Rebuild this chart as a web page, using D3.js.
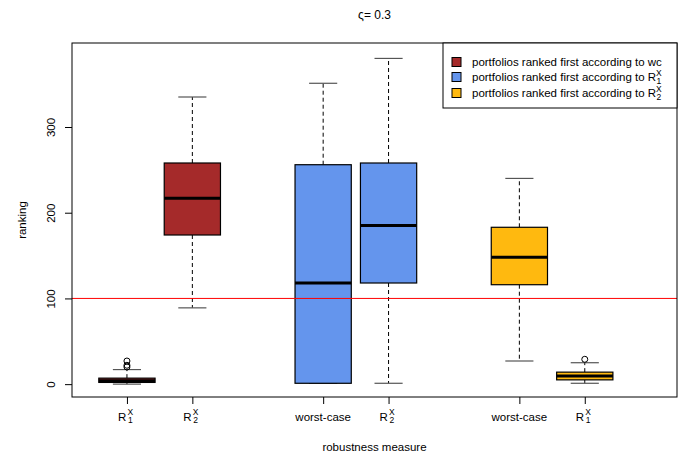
<!DOCTYPE html>
<html>
<head>
<meta charset="utf-8">
<script src="https://cdn.jsdelivr.net/npm/d3@7"></script>
<style>
  body { margin: 0; background: #fff; }
  text { font-family: "Liberation Sans", Arial, sans-serif; fill: #000; }
</style>
</head>
<body>
<div id="root"></div>
<script>
// box positions and the labels under them
var positions = [1, 2, 4, 5, 7, 8];
var labelMain = ["R", "R", "worst-case", "R", "worst-case", "R"];
var labelSup  = ["X", "X", "", "X", "", "X"];
var labelSub  = ["1", "2", "", "2", "", "1"];
var groups    = [0, 0, 1, 1, 2, 2];

// five number summaries
var whiskLo = [0, 89, 1, 1, 27, 1];
var q1      = [2, 174, 1, 118, 116, 5];
var median  = [4, 217, 118, 185, 148, 9.5];
var q3      = [7, 258, 256, 258, 183, 14];
var whiskHi = [17, 335, 351, 380, 240, 25];
var outliers = [[20, 22, 27], [], [], [], [], [29]];

var groupColors = ["#A52A2A", "#6495ED", "#FFB90F"];
var legendText = ["portfolios ranked first according to wc",
                  "portfolios ranked first according to R",
                  "portfolios ranked first according to R"];
var legendSub = ["", "1", "2"];

var yTicks = [0, 100, 200, 300];
var refLine = 100;

var width = 679, height = 457,
    margin = {top: 43, right: 2, bottom: 60, left: 72};

var svg = d3.select("#root").append("svg")
    .attr("width", width)
    .attr("height", height);

var x = d3.scaleLinear().domain([0.16, 9.41]).range([margin.left, width - margin.right]);
var y = d3.scaleLinear().domain([-15, 398]).range([height - margin.bottom, margin.top]);

var boxW = x(0.86) - x(0);

var box = svg.selectAll("g.box")
    .data(positions)
    .enter().append("g")
    .attr("class", "box");

// whiskers (dashed)
box.append("line")
    .attr("x1", function (d) { return x(d); })
    .attr("x2", function (d) { return x(d); })
    .attr("y1", function (d, i) { return y(q3[i]); })
    .attr("y2", function (d, i) { return y(whiskHi[i]); })
    .style("stroke", "#000").style("stroke-dasharray", "4,3");
box.append("line")
    .attr("x1", function (d) { return x(d); })
    .attr("x2", function (d) { return x(d); })
    .attr("y1", function (d, i) { return y(q1[i]); })
    .attr("y2", function (d, i) { return y(whiskLo[i]); })
    .style("stroke", "#000").style("stroke-dasharray", "4,3");

// caps
[whiskHi, whiskLo].forEach(function (arr) {
  box.append("line")
      .attr("x1", function (d) { return x(d) - boxW / 4; })
      .attr("x2", function (d) { return x(d) + boxW / 4; })
      .attr("y1", function (d, i) { return y(arr[i]); })
      .attr("y2", function (d, i) { return y(arr[i]); })
      .style("stroke", "#555").style("stroke-width", 1.2);
});

// boxes
box.append("rect")
    .attr("x", function (d) { return x(d) - boxW / 2; })
    .attr("y", function (d, i) { return y(q3[i]); })
    .attr("width", boxW)
    .attr("height", function (d, i) { return y(q1[i]) - y(q3[i]); })
    .style("fill", function (d, i) { return groupColors[groups[i]]; })
    .style("stroke", "#000").style("stroke-width", 1.2);

// medians
box.append("line")
    .attr("x1", function (d) { return x(d) - boxW / 2; })
    .attr("x2", function (d) { return x(d) + boxW / 2; })
    .attr("y1", function (d, i) { return y(median[i]); })
    .attr("y2", function (d, i) { return y(median[i]); })
    .style("stroke", "#000").style("stroke-width", 3);

// outliers
box.each(function (d, i) {
  d3.select(this).selectAll("circle")
      .data(outliers[i])
      .enter().append("circle")
      .attr("cx", x(d))
      .attr("cy", function (v) { return y(v); })
      .attr("r", 3)
      .style("fill", "none").style("stroke", "#000");
});

// reference line at 100, drawn over the boxes
svg.append("line")
    .attr("x1", margin.left).attr("x2", width - margin.right)
    .attr("y1", y(refLine)).attr("y2", y(refLine))
    .style("stroke", "red").style("stroke-width", 1);

// plot frame
svg.append("rect")
    .attr("x", margin.left).attr("y", margin.top)
    .attr("width", width - margin.right - margin.left)
    .attr("height", height - margin.bottom - margin.top)
    .style("fill", "none").style("stroke", "#000");

// y axis, labels rotated like R's default las = 0
var yAxis = svg.append("g")
    .attr("transform", "translate(" + margin.left + ",0)")
    .call(d3.axisLeft(y).tickValues(yTicks).tickSize(7).tickFormat(d3.format("d")));
yAxis.select(".domain").remove();
yAxis.selectAll(".tick text")
    .attr("x", 0).attr("y", 0).attr("dy", 0)
    .attr("transform", "translate(-17,0) rotate(-90)")
    .style("text-anchor", "middle")
    .style("font-size", "11.5px")
    .style("font-family", "'Liberation Sans', Arial, sans-serif");

// x axis
var xAxis = svg.append("g")
    .attr("transform", "translate(0," + (height - margin.bottom) + ")")
    .call(d3.axisBottom(x).tickValues(positions).tickSize(7).tickFormat(""));
xAxis.select(".domain").remove();

var xl = svg.selectAll("text.xlab")
    .data(positions)
    .enter().append("text")
    .attr("class", "xlab")
    .style("font-size", "11.5px")
    .attr("y", 421);
xl.each(function (d, i) {
  var t = d3.select(this);
  if (labelSup[i] === "") {
    t.attr("x", x(d)).style("text-anchor", "middle").text(labelMain[i]);
  } else {
    t.attr("x", x(d) - 9).style("text-anchor", "start");
    t.append("tspan").attr("x", x(d) - 9).text(labelMain[i]);
    t.append("tspan").attr("x", x(d) + 0.5).attr("dy", -6).style("font-size", "8.5px").text(labelSup[i]);
    t.append("tspan").attr("x", x(d) + 1).attr("dy", 8).style("font-size", "8.5px").text(labelSub[i]);
  }
});

// axis titles
svg.append("text")
    .attr("x", (margin.left + width - margin.right) / 2)
    .attr("y", 451)
    .style("text-anchor", "middle").style("font-size", "11.5px")
    .text("robustness measure");
svg.append("text")
    .attr("transform", "translate(26," + ((margin.top + height - margin.bottom) / 2) + ") rotate(-90)")
    .style("text-anchor", "middle").style("font-size", "11.5px")
    .text("ranking");

// title
svg.append("text")
    .attr("x", (margin.left + width - margin.right) / 2)
    .attr("y", 19)
    .style("text-anchor", "middle").style("font-size", "12px")
    .text("\u03c2= 0.3");

// legend
var lg = svg.append("g");
lg.append("rect")
    .attr("x", 443).attr("y", margin.top)
    .attr("width", width - margin.right - 443).attr("height", 65)
    .style("fill", "#fff").style("stroke", "#000");
var legY = [62, 77, 93];
legendText.forEach(function (txt, i) {
  lg.append("rect")
      .attr("x", 452).attr("y", legY[i] - 4.5)
      .attr("width", 9).attr("height", 9)
      .style("fill", groupColors[i]).style("stroke", "#000");
  var t = lg.append("text")
      .attr("x", 472).attr("y", legY[i] + 4)
      .style("font-size", "11.5px")
      .text(txt);
  if (legendSub[i] !== "") {
    var end = 472 + t.node().getComputedTextLength();
    lg.append("text").attr("x", end).attr("y", legY[i] - 1)
        .style("font-size", "8.5px").text("X");
    lg.append("text").attr("x", end + 0.5).attr("y", legY[i] + 7)
        .style("font-size", "8.5px").text(legendSub[i]);
  }
});
</script>
</body>
</html>
